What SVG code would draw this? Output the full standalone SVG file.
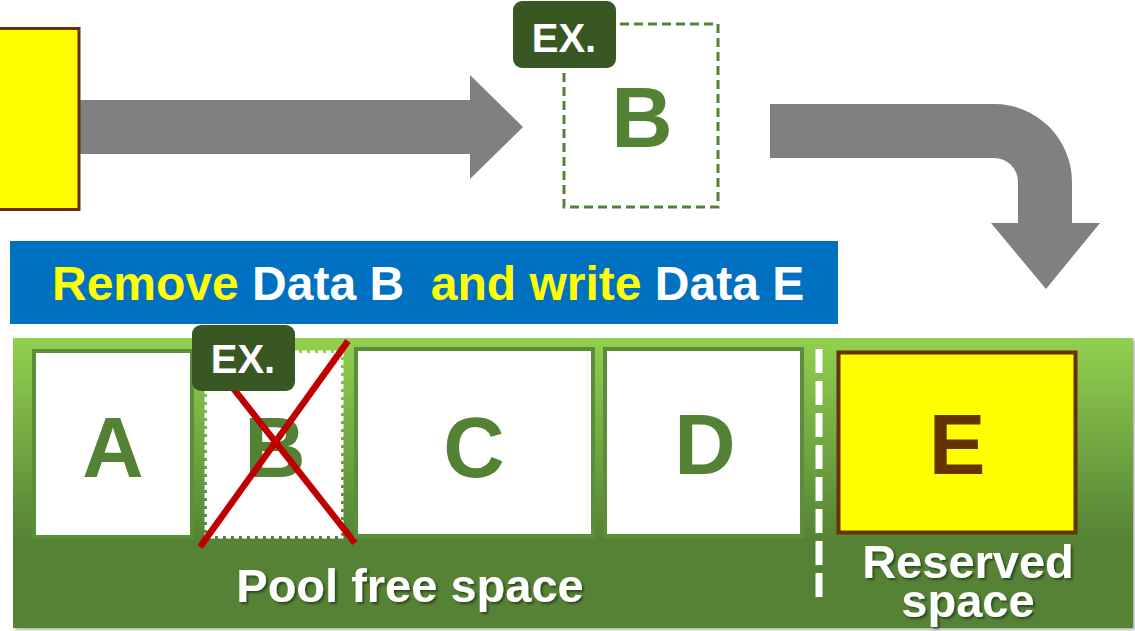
<svg xmlns="http://www.w3.org/2000/svg" width="1135" height="631" viewBox="0 0 1135 631">
  <style>
    text { font-family: "Liberation Sans", Arial, sans-serif; font-weight: bold; }
    .arrow { fill: #808080; }
    .letter { font-size: 85px; fill: #548235; text-anchor: middle; }
    .badge rect { fill: #385723; }
    .badge text { font-size: 40px; fill: #ffffff; text-anchor: middle; }
    .slot { fill: #ffffff; stroke: #5b8e3a; stroke-width: 4; }
    .label { fill: #ffffff; font-size: 47px; text-anchor: middle; filter: url(#shadow); }
  </style>
  <defs>
    <linearGradient id="poolGrad" x1="0" y1="0" x2="0" y2="1">
      <stop offset="0" stop-color="#92d050"/>
      <stop offset="0.7" stop-color="#548235"/>
      <stop offset="1" stop-color="#548235"/>
    </linearGradient>
    <filter id="shadow" x="-10%" y="-20%" width="120%" height="140%">
      <feDropShadow dx="2" dy="2" stdDeviation="1" flood-color="#000000" flood-opacity="0.45"/>
    </filter>
    <filter id="panelShadow" x="-2%" y="-2%" width="104%" height="106%">
      <feDropShadow dx="2" dy="2" stdDeviation="1.5" flood-color="#000000" flood-opacity="0.3"/>
    </filter>
  </defs>

  <rect width="1135" height="631" fill="#ffffff"/>

  <g id="connectors">
    <polygon class="arrow" points="80,100 470,100 470,75 523,127 470,179 470,154 80,154"/>
    <path class="arrow" d="M770,104 H994 A78,78 0 0 1 1072,182 V223 H1100 L1046,289 L991,223 H1018 V182 A24,24 0 0 0 994,158 H770 Z"/>
  </g>

  <g id="node-source">
    <rect x="-10" y="28.5" width="89" height="181" fill="#ffff00" stroke="#663300" stroke-width="3"/>
  </g>

  <g id="node-ex-b">
    <rect x="564" y="24" width="154" height="183" fill="none" stroke="#548235" stroke-width="3" stroke-dasharray="9 5"/>
    <text class="letter" x="642" y="147">B</text>
    <g class="badge">
      <rect x="513" y="1" width="103" height="67" rx="9"/>
      <text x="564" y="52">EX.</text>
    </g>
  </g>

  <g id="node-banner">
    <rect x="10" y="241" width="828" height="83" fill="#0070c0"/>
    <text x="52" y="300" font-size="48" xml:space="preserve"><tspan fill="#ffff00">Remove</tspan><tspan fill="#ffffff"> Data B  </tspan><tspan fill="#ffff00">and write</tspan><tspan fill="#ffffff"> Data E</tspan></text>
  </g>

  <g id="node-pool">
    <rect x="13" y="338" width="1120" height="290" fill="url(#poolGrad)" filter="url(#panelShadow)"/>
  </g>

  <g id="node-a">
    <rect class="slot" x="34" y="351" width="158" height="186"/>
    <text class="letter" x="113" y="477">A</text>
  </g>

  <g id="node-b-removed">
    <rect x="207" y="353" width="134" height="183" fill="#ffffff"/>
    <rect x="206" y="352" width="136" height="185" fill="none" stroke="#ffffff" stroke-width="3" stroke-dasharray="5 3"/>
    <text class="letter" x="275" y="477">B</text>
    <line x1="200" y1="547" x2="348" y2="341" stroke="#c00000" stroke-width="6.5"/>
    <line x1="196" y1="341" x2="355" y2="543" stroke="#c00000" stroke-width="6.5"/>
    <g class="badge">
      <rect x="192" y="325" width="103" height="66" rx="9"/>
      <text x="243" y="373">EX.</text>
    </g>
  </g>

  <g id="node-c">
    <rect class="slot" x="356" y="349" width="237" height="187"/>
    <text class="letter" x="474" y="477">C</text>
  </g>

  <g id="node-d">
    <rect class="slot" x="605" y="349" width="197" height="187"/>
    <text class="letter" x="705" y="474">D</text>
  </g>

  <g id="divider">
    <line x1="819" y1="349" x2="819" y2="597" stroke="#ffffff" stroke-width="7" stroke-dasharray="24 8"/>
  </g>

  <g id="node-e">
    <rect x="838.5" y="352.5" width="237" height="180" fill="#ffff00" stroke="#663300" stroke-width="4"/>
    <text x="957" y="474" font-size="85" fill="#663300" text-anchor="middle">E</text>
  </g>

  <g id="labels">
    <text class="label" x="410" y="602">Pool free space</text>
    <text class="label" x="968" y="578">Reserved</text>
    <text class="label" x="968" y="617">space</text>
  </g>
</svg>
